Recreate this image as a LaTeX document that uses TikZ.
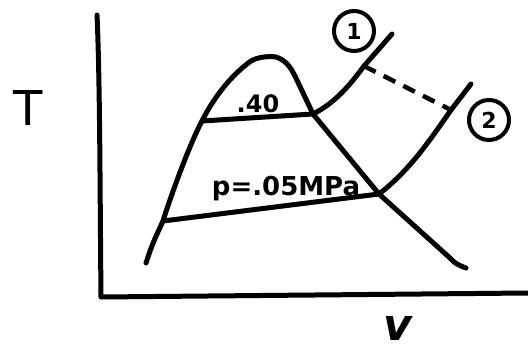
\documentclass[tikz,border=0pt]{standalone}
\usepackage{fontspec}
\setmainfont{DejaVu Sans}
\begin{document}
\begin{tikzpicture}[x=1pt, y=-1pt,
  curve/.style={line width=5pt, line cap=round, line join=round},
  dashline/.style={line width=4.5pt, dash pattern=on 13pt off 9pt},
  state/.style={draw, circle, line width=4pt, minimum size=40pt, inner sep=0pt,
                font=\bfseries\fontsize{22}{22}\selectfont},
  label/.style={font=\bfseries\fontsize{24}{24}\selectfont, inner sep=0pt},
  axislabel/.style={font=\fontsize{48}{48}\selectfont, inner sep=0pt}
]
  \useasboundingbox (0,0) rectangle (528,351);

  \coordinate (ytop)   at (97,15);
  \coordinate (origin) at (101,297);
  \coordinate (xend)   at (528,293);
  \coordinate (fa)     at (202,121);
  \coordinate (ga)     at (313,114);
  \coordinate (fb)     at (163,221);
  \coordinate (gb)     at (379,194);
  \coordinate (s1)     at (364,66);
  \coordinate (s2)     at (451,110);

  \draw[curve] (ytop) .. controls (100,80) and (100,200) .. (origin) -- (xend);
  \draw[curve] (146,263) .. controls (152,245) .. (fb) .. controls (170,198) and (190,143) .. (fa)
    .. controls (213,99) and (230,76) .. (251,61) .. controls (258,57) and (268,56) .. (276,57)
    .. controls (285,60) and (290,66) .. (295,76) -- (ga);
  \draw[curve] (ga) -- (gb) -- (450,258) .. controls (456,264) .. (466,268);
  \draw[curve] (fa) -- (ga) .. controls (335,103) and (350,85) .. (s1) -- (392,34);
  \draw[curve] (fb) -- (gb) .. controls (410,170) and (430,140) .. (s2) -- (471,84);
  \draw[dashline] (s1) -- (s2);

  \node[state] (one) at (354,31) {1};
  \node[state] (two) at (489,120) {2};
  \node[label] (x40) at (258,104) {.40};
  \node[label, font=\bfseries\fontsize{26}{26}\selectfont] (p05) at (286,189) {p=.05MPa};
  \node[axislabel] (tlab) at (28,108) {T};
  \node[axislabel, font=\bfseries\itshape\fontsize{44}{44}\selectfont] (vlab) at (398,328) {v};
\end{tikzpicture}
\end{document}
